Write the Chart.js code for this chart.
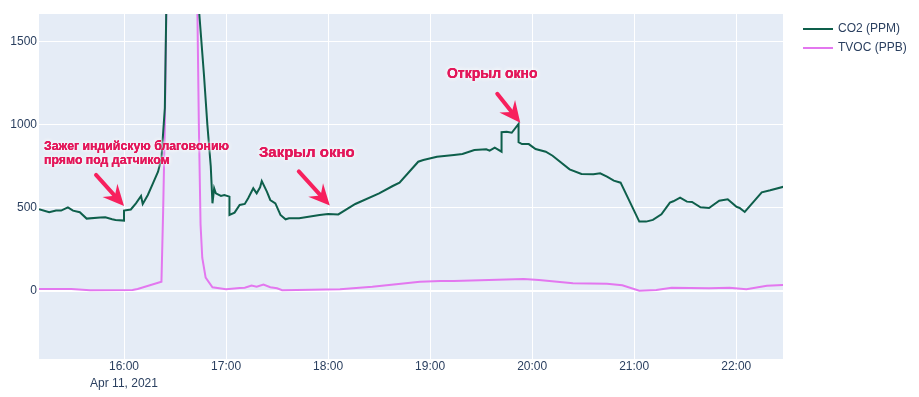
<!DOCTYPE html>
<html>
<head>
<meta charset="utf-8">
<script src="https://cdn.jsdelivr.net/npm/chart.js@4"></script>
<style>
  html, body { margin: 0; padding: 0; background: #fff; }
</style>
</head>
<body>
<canvas id="airChart" width="919" height="397"></canvas>
<script>
// CO2 (ppm) readings, clock time -> value
const co2Times = ['15:10','15:16','15:20','15:23','15:27','15:30','15:34','15:38','15:46','15:49','15:53','15:55',
  '16:00','16:00','16:04','16:07','16:10','16:11','16:14','16:17','16:20','16:22','16:23','16:24','16:25',
  '16:44','16:47','16:49','16:51','16:52','16:53','16:54','16:57','16:59','17:02','17:02','17:05','17:08',
  '17:11','17:13','17:16','17:18','17:20','17:21','17:24','17:26','17:29','17:32','17:35','17:37','17:43',
  '17:55','18:00','18:06','18:16','18:30','18:38','18:42','18:53','18:56','19:04','19:14','19:19','19:26',
  '19:33','19:35','19:38','19:42','19:42','19:45','19:48','19:52','19:52','19:54','19:58','20:02','20:08',
  '20:12','20:22','20:29','20:36','20:40','20:44','20:48','20:52','21:03','21:07','21:11','21:16','21:21',
  '21:23','21:27','21:31','21:34','21:39','21:44','21:50','21:55','22:00','22:02','22:05','22:15','22:20','22:28'];
const co2Values = [491,473,483,483,503,483,473,435,441,443,431,427,
  423,483,490,527,571,523,577,647,717,797,950,1100,1800,
  1700,1300,1000,750,527,617,587,571,577,567,457,471,517,
  523,557,617,587,623,661,597,547,527,457,431,437,437,
  457,463,460,523,587,631,651,777,787,807,817,823,847,
  852,843,861,837,954,957,951,1004,894,883,883,853,837,
  813,731,703,701,707,687,663,651,417,417,427,461,531,
  539,561,537,535,503,499,543,551,507,499,475,593,605,627];

// TVOC (ppb) readings
const tvocTimes = ['15:10','15:29','15:40','16:05','16:08','16:22','16:23','16:24','16:25','16:43','16:44','16:45',
  '16:46','16:48','16:52','17:00','17:08','17:11','17:15','17:18','17:22','17:26','17:30','17:33','18:07',
  '18:26','18:54','19:06','19:14','19:55','20:04','20:24','20:44','20:53','21:03','21:13','21:22','21:44',
  '21:56','22:06','22:18','22:28'];
const tvocValues = [12,12,4,6,12,56,480,1000,1800,1800,1000,400,
  200,80,22,10,18,20,32,26,38,22,16,4,10,
  26,56,60,60,72,66,46,44,34,2,6,20,16,
  20,10,32,36];

const seriesNames = ['CO2 (PPM)', 'TVOC (PPB)'];
const xTickTimes = ['16:00','17:00','18:00','19:00','20:00','21:00','22:00'];
const dateTick = '16:00';
const dateLabel = 'Apr 11, 2021';
const yTicks = [0, 500, 1000, 1500];

const annTimes = ['16:00', '18:01', '19:53'];
const annValues = [511, 514, 1011];
const annTexts = [['Зажег индийскую благовонию', 'прямо под датчиком'], ['Закрыл окно'], ['Открыл окно']];

const toMin = s => { const [h, m] = s.split(':').map(Number); return h * 60 + m; };
const toClock = v => String(Math.floor(v / 60)).padStart(2, '0') + ':' + String(Math.round(v % 60)).padStart(2, '0');
const pairs = (times, vals) => times.map((t, i) => ({ x: toMin(t), y: vals[i] }));

const FONT = '"Liberation Sans", Arial, sans-serif';
const TEXT = '#2a3f5f';

const plotBg = {
    id: 'plotBg',
    beforeDraw(chart) {
        const { ctx, chartArea: a } = chart;
        ctx.save();
        ctx.fillStyle = '#e5ecf6';
        ctx.fillRect(a.left, a.top, a.right - a.left, a.bottom - a.top);
        ctx.restore();
    }
};

const sideLegend = {
    id: 'sideLegend',
    afterDraw(chart) {
        const ctx = chart.ctx;
        ctx.save();
        ctx.font = '12px ' + FONT;
        ctx.textBaseline = 'middle';
        chart.data.datasets.forEach((ds, i) => {
            const y = 29 + i * 19;
            ctx.strokeStyle = ds.borderColor;
            ctx.lineWidth = 2;
            ctx.beginPath();
            ctx.moveTo(803, y);
            ctx.lineTo(833, y);
            ctx.stroke();
            ctx.fillStyle = TEXT;
            ctx.fillText(ds.label, 838, y);
        });
        ctx.restore();
    }
};

// arrow + label layout, offsets relative to the arrow tip
const annStyle = [
    { ax: -28, ay: -31, tx: -80, ty: -59, align: 'left', size: 12.3, gap: 14 },
    { ax: -31, ay: -34, tx: -23, ty: -53, align: 'center', size: 15, gap: 16 },
    { ax: -23, ay: -29, tx: -28, ty: -49, align: 'center', size: 14, gap: 16 }
];

const arrows = {
    id: 'arrows',
    afterDraw(chart) {
        const { ctx, scales } = chart;
        ctx.save();
        annTimes.forEach((t, i) => {
            const st = annStyle[i];
            const px = scales.x.getPixelForValue(toMin(t));
            const py = scales.y.getPixelForValue(annValues[i]);
            const sx = px + st.ax, sy = py + st.ay;
            const ang = Math.atan2(py - sy, px - sx);
            const L = 21, W = 10;
            const bx = px - Math.cos(ang) * L * 0.65, by = py - Math.sin(ang) * L * 0.65;
            ctx.strokeStyle = '#f7205d';
            ctx.fillStyle = '#f7205d';
            ctx.lineWidth = 4;
            ctx.lineCap = 'round';
            ctx.beginPath();
            ctx.moveTo(sx, sy);
            ctx.lineTo(bx, by);
            ctx.stroke();
            const cx = px - Math.cos(ang) * L, cy = py - Math.sin(ang) * L;
            const nx = -Math.sin(ang), ny = Math.cos(ang);
            ctx.beginPath();
            ctx.moveTo(px, py);
            ctx.lineTo(cx + nx * W, cy + ny * W);
            ctx.lineTo(bx, by);
            ctx.lineTo(cx - nx * W, cy - ny * W);
            ctx.closePath();
            ctx.fill();

            ctx.font = 'bold ' + st.size + 'px ' + FONT;
            ctx.textAlign = st.align;
            ctx.textBaseline = 'middle';
            annTexts[i].forEach((line, k) => {
                const lx = px + st.tx, ly = py + st.ty + k * st.gap;
                ctx.shadowColor = 'rgba(255,255,255,1)';
                ctx.shadowBlur = 5;
                ctx.fillStyle = '#e3175a';
                ctx.fillText(line, lx, ly);
                ctx.fillText(line, lx, ly);
                ctx.shadowBlur = 0;
                ctx.fillText(line, lx, ly);
            });
        });
        ctx.restore();
    }
};

new Chart(document.getElementById('airChart'), {
    type: 'line',
    data: {
        datasets: [{
            label: seriesNames[0],
            data: pairs(co2Times, co2Values),
            borderColor: '#0e5f4b',
            borderWidth: 2,
            pointRadius: 0,
            tension: 0,
            clip: 0
        }, {
            label: seriesNames[1],
            data: pairs(tvocTimes, tvocValues),
            borderColor: '#e377ef',
            borderWidth: 2,
            pointRadius: 0,
            tension: 0,
            clip: 0
        }]
    },
    options: {
        responsive: false,
        animation: false,
        layout: { padding: { top: 14, right: 136, left: 0, bottom: 0 } },
        plugins: {
            legend: { display: false },
            tooltip: { enabled: false }
        },
        scales: {
            x: {
                type: 'linear',
                min: toMin('15:10'),
                max: toMin('22:27') + 0.5,
                afterFit: s => { s.height = 38; },
                afterBuildTicks: s => { s.ticks = xTickTimes.map(t => ({ value: toMin(t) })); },
                border: { display: false },
                grid: { color: '#fff', lineWidth: 1, drawTicks: false },
                ticks: {
                    autoSkip: false,
                    maxRotation: 0,
                    padding: -1,
                    color: TEXT,
                    font: { family: FONT, size: 12, lineHeight: 1.42 },
                    callback: v => toClock(v) === dateTick ? [toClock(v), dateLabel] : toClock(v)
                }
            },
            y: {
                min: -409,
                max: 1665,
                afterFit: s => { s.width = 39; },
                afterBuildTicks: s => { s.ticks = yTicks.map(v => ({ value: v })); },
                border: { display: false },
                grid: {
                    color: '#fff',
                    lineWidth: ctx => ctx.tick && ctx.tick.value === 0 ? 2 : 1,
                    drawTicks: false
                },
                ticks: {
                    padding: 2,
                    color: TEXT,
                    font: { family: FONT, size: 12 },
                    callback: v => String(v)
                }
            }
        }
    },
    plugins: [plotBg, sideLegend, arrows]
});
</script>
</body>
</html>
